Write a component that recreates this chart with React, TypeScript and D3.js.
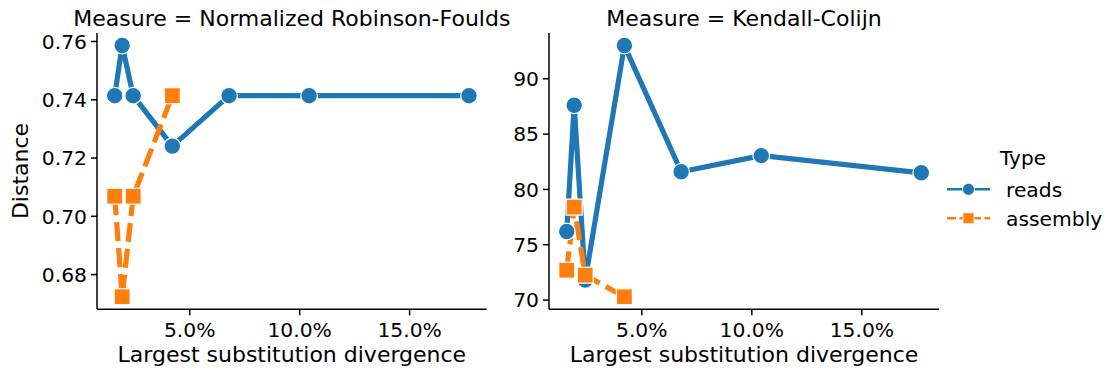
import React from "react";
import * as d3 from "d3";

const divergence = [0.0159, 0.0193, 0.0243, 0.0421, 0.0679, 0.1043, 0.177];
const asmDivergence = [0.0159, 0.0193, 0.0243, 0.0421];
const rfReads = [0.7414, 0.7586, 0.7414, 0.7241, 0.7414, 0.7414, 0.7414];
const rfAssembly = [0.7069, 0.6724, 0.7069, 0.7414];
const kcReads = [76.2, 87.6, 71.8, 93.0, 81.6, 83.05, 81.5];
const kcAssembly = [72.7, 78.4, 72.25, 70.3];
const rfTicks = [0.68, 0.7, 0.72, 0.74, 0.76];
const kcTicks = [70, 75, 80, 85, 90];
const xTicks = [0.05, 0.1, 0.15];
const panels = [
  { title: "Measure = Normalized Robinson-Foulds", reads: rfReads, assembly: rfAssembly, ticks: rfTicks, fmt: d3.format(".2f"), x0: 97, x1: 486.7 },
  { title: "Measure = Kendall-Colijn", reads: kcReads, assembly: kcAssembly, ticks: kcTicks, fmt: d3.format("d"), x0: 549, x1: 939 },
];

const BLUE = "#1f77b4";
const ORANGE = "#ff7f0e";
const FONT = "DejaVu Sans";
const TOP = 33;
const BOTTOM = 309.3;
const TICK_FS = 20.3;
const LABEL_FS = 22;

function pad(ext: [number, number]): [number, number] {
  const r = ext[1] - ext[0];
  return [ext[0] - 0.05 * r, ext[1] + 0.05 * r];
}

export default function App() {
  const xDomain = pad(d3.extent(divergence) as [number, number]);
  const xFmt = d3.format(".1%");
  return (
    <svg width={1110} height={373} style={{ position: "absolute", left: 0, top: 0 }} fontFamily={FONT}>
      <rect width={1110} height={373} fill="white" />
      {panels.map((p, i) => {
        const x = d3.scaleLinear().domain(xDomain).range([p.x0, p.x1]);
        const all = [...p.reads, ...p.assembly];
        const y = d3.scaleLinear().domain(pad(d3.extent(all) as [number, number])).range([BOTTOM, TOP]);
        const line = d3.line<[number, number]>().x((d) => x(d[0])).y((d) => y(d[1]));
        const readPts: [number, number][] = divergence.map((d, j) => [d, p.reads[j]]);
        const asmPts: [number, number][] = asmDivergence.map((d, j) => [d, p.assembly[j]]);
        const cx = (p.x0 + p.x1) / 2;
        return (
          <g key={i}>
            <text x={cx} y={26} textAnchor="middle" fontSize={LABEL_FS}>{p.title}</text>
            <line x1={p.x0} x2={p.x0} y1={TOP} y2={BOTTOM} stroke="black" strokeWidth={1.5} />
            <line x1={p.x0} x2={p.x1} y1={BOTTOM} y2={BOTTOM} stroke="black" strokeWidth={1.5} />
            {p.ticks.map((t) => (
              <g key={t}>
                <line x1={p.x0 - 6} x2={p.x0} y1={y(t)} y2={y(t)} stroke="black" strokeWidth={1.5} />
                <text x={p.x0 - 10} y={y(t)} dy="0.36em" textAnchor="end" fontSize={TICK_FS}>{p.fmt(t)}</text>
              </g>
            ))}
            {xTicks.map((t) => (
              <g key={t}>
                <line x1={x(t)} x2={x(t)} y1={BOTTOM} y2={BOTTOM + 6} stroke="black" strokeWidth={1.5} />
                <text x={x(t)} y={337} textAnchor="middle" fontSize={TICK_FS}>{xFmt(t)}</text>
              </g>
            ))}
            <text x={cx} y={362} textAnchor="middle" fontSize={LABEL_FS}>Largest substitution divergence</text>
            <path d={line(readPts) || ""} fill="none" stroke={BLUE} strokeWidth={5.2} strokeLinejoin="round" />
            <path d={line(asmPts) || ""} fill="none" stroke={ORANGE} strokeWidth={5.2} strokeDasharray="19 7" />
            {readPts.map((d, j) => (
              <circle key={j} cx={x(d[0])} cy={y(d[1])} r={8.3} fill={BLUE} stroke="white" strokeWidth={1.2} />
            ))}
            {asmPts.map((d, j) => (
              <rect key={j} x={x(d[0]) - 8} y={y(d[1]) - 8} width={16} height={16} fill={ORANGE} stroke="white" strokeWidth={1.2} />
            ))}
          </g>
        );
      })}
      <text transform="translate(28,171) rotate(-90)" textAnchor="middle" fontSize={LABEL_FS}>Distance</text>
      <g>
        <text x={1000} y={165} fontSize={20}>Type</text>
        <line x1={947} x2={990} y1={189.3} y2={189.3} stroke={BLUE} strokeWidth={2.5} />
        <circle cx={968.5} cy={189.3} r={6} fill={BLUE} stroke="white" strokeWidth={0.8} />
        <text x={1006} y={189.3} dy="0.36em" fontSize={TICK_FS}>reads</text>
        <line x1={947} x2={990} y1={218.3} y2={218.3} stroke={ORANGE} strokeWidth={2.5} strokeDasharray="9 3.5" />
        <rect x={963} y={212.8} width={11} height={11} fill={ORANGE} stroke="white" strokeWidth={0.8} />
        <text x={1006} y={218.3} dy="0.36em" fontSize={TICK_FS}>assembly</text>
      </g>
    </svg>
  );
}
